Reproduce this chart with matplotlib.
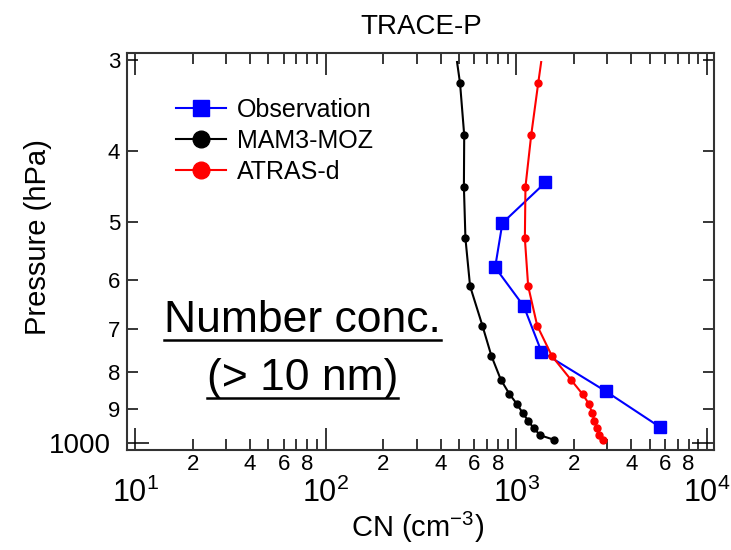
import numpy as np
import matplotlib
matplotlib.use("Agg")
from matplotlib import pyplot as plt
from matplotlib.ticker import FixedLocator, LogLocator, FuncFormatter, LogFormatterSciNotation
from matplotlib.lines import Line2D

plt.rcParams['font.family'] = ['Liberation Sans', 'DejaVu Sans']
plt.rcParams['mathtext.fontset'] = 'custom'
plt.rcParams['mathtext.rm'] = 'Liberation Sans'
plt.rcParams['mathtext.it'] = 'Liberation Sans:italic'

# model levels (hPa), first one only carries the line to the top
p_model = [302, 323, 380, 447, 526, 611, 692, 761, 820, 858, 885, 911, 933, 956, 977, 991]
cn_mam3 = [488, 506, 532, 530, 540, 571, 663, 739, 828, 919, 1005, 1080, 1152, 1234, 1337, 1583]
cn_atras = [1348, 1300, 1195, 1115, 1107, 1152, 1285, 1534, 1930, 2221, 2400, 2497, 2567, 2642, 2717, 2841]

p_obs = [441, 501, 576, 651, 751, 850, 951]
cn_obs = [1420, 844, 773, 1093, 1353, 2933, 5634]

p_minor = [300, 400, 500, 600, 700, 800, 900]
p_minor_labels = ['3', '4', '5', '6', '7', '8', '9']
p_major = [1000]
p_major_labels = ['1000']

fig = plt.figure(figsize=(7.31, 5.5), dpi=100)
ax = fig.add_axes([0.1741, 0.1818, 0.8031, 0.7213])

ax.plot(cn_obs, p_obs, color='blue', lw=1.5, marker='s', ms=9, label='Observation')
ax.plot(cn_mam3, p_model, color='black', lw=1.5, marker='o', ms=5,
        markevery=slice(1, None), label='MAM3-MOZ')
ax.plot(cn_atras, p_model, color='red', lw=1.5, marker='o', ms=5,
        markevery=slice(1, None), label='ATRAS-d')

ax.set_xscale('log')
ax.set_yscale('log')
ax.set_xlim(9.08, 10920)
ax.set_ylim(1023, 293.8)

# x ticks: decades big, 2..9 small with 2,4,6,8 labelled
ax.xaxis.set_major_locator(LogLocator(base=10))
ax.xaxis.set_major_formatter(LogFormatterSciNotation())
ax.xaxis.set_minor_locator(LogLocator(base=10, subs=np.arange(2, 10)))
def minor_fmt(v, pos):
    d = int(round(v / 10 ** np.floor(np.log10(v))))
    return str(d) if d in (2, 4, 6, 8) else ''
ax.xaxis.set_minor_formatter(FuncFormatter(minor_fmt))

ax.yaxis.set_major_locator(FixedLocator(p_major))
ax.set_yticks(p_major, labels=p_major_labels)
ax.set_yticks(p_minor, labels=p_minor_labels, minor=True)

ax.tick_params(axis='both', which='both', direction='in', top=True, right=True, width=1.1)
ax.tick_params(axis='x', which='major', length=16, labelsize=22, pad=20)
ax.tick_params(axis='x', which='minor', length=8, labelsize=16, pad=3)
ax.tick_params(axis='y', which='major', length=16, labelsize=20, pad=12)
ax.tick_params(axis='y', which='minor', length=8, labelsize=16, pad=5)
for s in ax.spines.values():
    s.set_linewidth(1.5)
    s.set_color('#333333')

ax.set_xlabel('CN (cm$^{-3}$)', fontsize=21)
ax.xaxis.set_label_coords(0.495, -0.15)
ax.set_ylabel('Pressure (hPa)', fontsize=21)
ax.yaxis.set_label_coords(-0.128, 0.537)
ax.set_title('TRACE-P', fontsize=20, pad=14)

leg = ax.legend(loc='upper left', bbox_to_anchor=(0.083, 0.888), frameon=False,
                fontsize=18, handlelength=2.0, handletextpad=0.45, labelspacing=0.29,
                borderpad=0, borderaxespad=0)
for h in leg.legend_handles:
    h.set_markersize(12)

t1 = ax.text(0.299, 0.2975, 'Number conc.', transform=ax.transAxes,
             fontsize=32, ha='center', va='baseline')
t2 = ax.text(0.299, 0.151, '(> 10 nm)', transform=ax.transAxes,
             fontsize=32, ha='center', va='baseline')

# underline the two text lines
fig.canvas.draw()
inv = fig.transFigure.inverted()
for t in (t1, t2):
    bb = t.get_window_extent()
    base = ax.transAxes.transform(t.get_position())[1]
    (x0, y0), (x1, _) = inv.transform([(bb.x0, base - 8), (bb.x1, base - 8)])
    fig.add_artist(Line2D([x0, x1], [y0, y0], color='black', lw=1.8,
                          transform=fig.transFigure))

fig.savefig('out.png', dpi=100)
